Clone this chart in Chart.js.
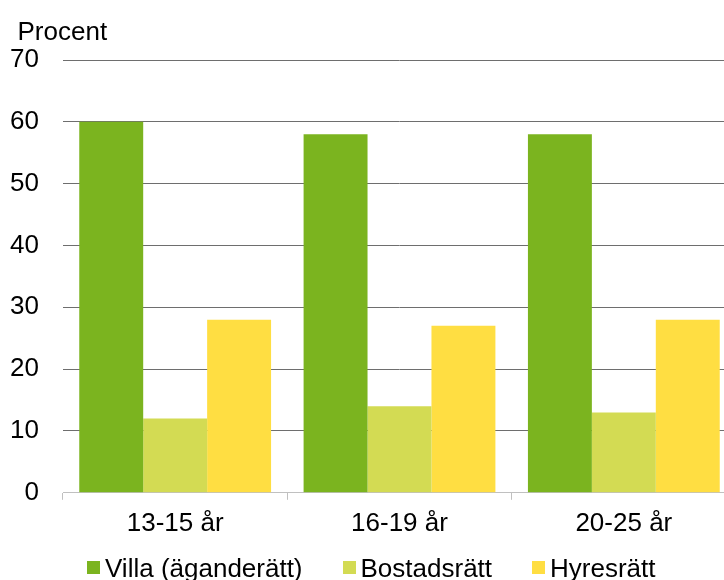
<!DOCTYPE html>
<html>
<head>
<meta charset="utf-8">
<script src="https://cdn.jsdelivr.net/npm/chart.js@4"></script>
<style>
  html, body { margin: 0; padding: 0; overflow: hidden; background: #fff; }
  #wrap { width: 737px; height: 580px; position: relative; }
  #legend {
    position: absolute; left: 87px; top: 553px;
    display: flex; align-items: center;
    font-family: 'Liberation Sans', Arial, sans-serif; font-size: 26px;
    line-height: 30px; color: #000; white-space: nowrap;
  }
  #legend .item { display: flex; align-items: center; margin-right: 40px; }
  #legend .box { width: 13px; height: 13px; margin-right: 5px; position: relative; top: -1px; }
</style>
</head>
<body>
<div id="wrap">
  <canvas id="myChart"></canvas>
  <div id="legend"></div>
</div>
<script>
const categories = ['13-15 år', '16-19 år', '20-25 år'];
const villa = [60, 58, 58];
const bostadsratt = [12, 14, 13];
const hyresratt = [28, 27, 28];
const yTicks = [0, 10, 20, 30, 40, 50, 60, 70];
const unitLabel = 'Procent';

Chart.defaults.font.family = "'Liberation Sans', Arial, sans-serif";
Chart.defaults.color = '#000';

// unit text above the y axis, left of the plot
const unitPlugin = {
    id: 'unitLabel',
    afterDraw(chart) {
        const c = chart.ctx;
        c.save();
        c.font = "26px 'Liberation Sans', Arial, sans-serif";
        c.fillStyle = '#000';
        c.textAlign = 'left';
        c.textBaseline = 'alphabetic';
        c.fillText(unitLabel, 17.5, 40);
        c.restore();
    }
};

const ctx = document.getElementById('myChart').getContext('2d');
const chart = new Chart(ctx, {
    type: 'bar',
    data: {
        labels: categories,
        datasets: [
            { label: 'Villa (äganderätt)', data: villa, backgroundColor: '#7BB41F' },
            { label: 'Bostadsrätt', data: bostadsratt, backgroundColor: '#D3DB53' },
            { label: 'Hyresrätt', data: hyresratt, backgroundColor: '#FFDE42' }
        ]
    },
    options: {
        responsive: true,
        maintainAspectRatio: false,
        animation: false,
        categoryPercentage: 0.855,
        barPercentage: 1,
        layout: { padding: { left: 8, right: 1, top: 60, bottom: 33 } },
        scales: {
            x: {
                grid: {
                    offset: true,
                    drawOnChartArea: false,
                    drawTicks: true,
                    tickLength: 7,
                    color: '#c0c0c0'
                },
                border: { color: '#c0c0c0', width: 1 },
                ticks: { font: { size: 26 }, padding: 8 }
            },
            y: {
                min: 0,
                max: 70,
                afterBuildTicks: axis => { axis.ticks = yTicks.map(v => ({ value: v })); },
                afterFit: axis => { axis.width = 55; },
                grid: {
                    drawTicks: false,
                    color: c => (c.tick && c.tick.value === 0) ? 'rgba(0,0,0,0)' : '#6e6e6e',
                    lineWidth: 1
                },
                border: { display: false },
                ticks: { font: { size: 26 }, padding: 24 }
            }
        },
        plugins: {
            legend: { display: false },
            tooltip: { enabled: false }
        }
    },
    plugins: [unitPlugin]
});

// legend as html, built from the chart's datasets
const legendEl = document.getElementById('legend');
chart.data.datasets.forEach(ds => {
    const item = document.createElement('div');
    item.className = 'item';
    item.innerHTML = `<span class="box" style="background:${ds.backgroundColor}"></span><span>${ds.label}</span>`;
    legendEl.appendChild(item);
});
</script>
</body>
</html>
